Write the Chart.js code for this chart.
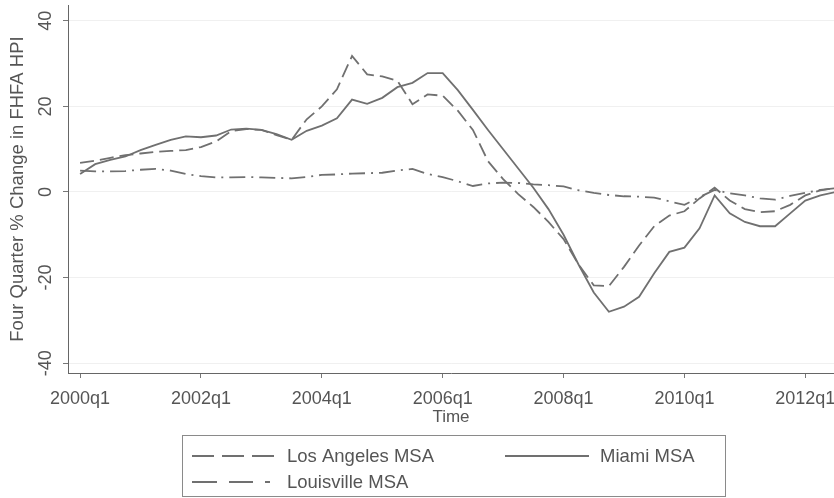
<!DOCTYPE html>
<html>
<head>
<meta charset="utf-8">
<script src="https://cdn.jsdelivr.net/npm/chart.js@4.4.1/dist/chart.umd.min.js"></script>
<style>
  body { margin: 0; background: #fff; }
  #wrap { width: 834px; height: 498px; }
</style>
</head>
<body>
<div id="wrap"><canvas id="hpi" width="834" height="498"></canvas></div>
<script>
// quarters 2000q1 .. 2012q3, x = quarter index
const tickIndex = [0, 8, 16, 24, 32, 40, 48];
const tickLabels = ["2000q1", "2002q1", "2004q1", "2006q1", "2008q1", "2010q1", "2012q1"];
const yTicks = [-40, -20, 0, 20, 40];

const losAngeles = [6.8, 7.3, 8.0, 8.6, 9.0, 9.4, 9.6, 9.8, 10.5, 11.8,
  14.2, 14.7, 14.5, 13.3, 12.2, 17.0, 20.0, 24.0, 31.8, 27.5,
  27.0, 26.0, 20.5, 22.8, 22.5, 19.0, 14.5, 7.2, 3.0, -0.5,
  -3.5, -7.0, -11.0, -17.0, -21.8, -22.0, -17.5, -12.5, -8.0, -5.5,
  -4.5, -1.5, 1.0, -2.0, -4.0, -4.7, -4.5, -3.0, -0.8, 0.4, 0.9];
const miami = [4.2, 6.5, 7.5, 8.3, 9.8, 11.0, 12.2, 13.0, 12.8, 13.2,
  14.6, 14.8, 14.5, 13.5, 12.2, 14.3, 15.5, 17.2, 21.6, 20.6,
  22.0, 24.5, 25.5, 27.8, 27.8, 23.8, 19.2, 14.5, 10.0, 5.5,
  1.0, -4.0, -10.0, -17.0, -23.5, -28.0, -26.8, -24.5, -19.0, -14.0,
  -13.0, -8.5, -0.8, -5.0, -7.0, -8.0, -8.0, -5.0, -2.0, -0.8, 0.0];
const louisville = [5.0, 4.8, 4.8, 4.9, 5.2, 5.4, 5.0, 4.2, 3.7, 3.4,
  3.4, 3.5, 3.4, 3.3, 3.2, 3.5, 4.0, 4.1, 4.3, 4.4,
  4.5, 5.0, 5.4, 4.2, 3.5, 2.5, 1.4, 2.0, 2.2, 2.1,
  1.8, 1.6, 1.3, 0.4, -0.2, -0.7, -1.0, -1.1, -1.3, -2.2,
  -3.0, -1.2, 0.5, -0.3, -0.8, -1.5, -1.8, -0.9, -0.2, 0.5, 0.9];

const lineColor = "#707070";
const textColor = "#555555";
const fontFamily = "'Liberation Sans', Arial, sans-serif";

function toPoints(values) {
  return values.map((v, i) => ({ x: i, y: v }));
}

// Stata style legend box + rotated y tick labels
const stataBits = {
  id: "stataBits",
  afterDraw(chart) {
    const ctx = chart.ctx;
    const yScale = chart.scales.y;
    ctx.save();
    ctx.fillStyle = textColor;
    ctx.font = "18px " + fontFamily;
    ctx.textAlign = "center";
    ctx.textBaseline = "middle";
    yTicks.forEach((t) => {
      const py = yScale.getPixelForValue(t);
      ctx.save();
      ctx.translate(46, py);
      ctx.rotate(-Math.PI / 2);
      ctx.fillText(String(t), 0, 0);
      ctx.restore();
    });

    // legend
    ctx.strokeStyle = "#8a8a8a";
    ctx.lineWidth = 1;
    ctx.setLineDash([]);
    ctx.strokeRect(182.5, 435.5, 543, 61);
    const ds = chart.data.datasets;
    const rows = [
      { d: ds[0], x1: 192, x2: 275, tx: 287, y: 456 },
      { d: ds[1], x1: 505, x2: 589, tx: 600, y: 456 },
      { d: ds[2], x1: 192, x2: 270, tx: 287, y: 482 },
    ];
    ctx.font = "18.5px " + fontFamily;
    ctx.textAlign = "left";
    rows.forEach((r) => {
      ctx.strokeStyle = r.d.borderColor;
      ctx.lineWidth = r.d.borderWidth;
      ctx.setLineDash(r.d.legendDash || []);
      ctx.beginPath();
      ctx.moveTo(r.x1, r.y);
      ctx.lineTo(r.x2, r.y);
      ctx.stroke();
      ctx.fillStyle = textColor;
      ctx.fillText(r.d.label, r.tx, r.y + 1);
    });
    ctx.restore();
  },
};

new Chart(document.getElementById("hpi"), {
  type: "line",
  data: {
    datasets: [
      {
        label: "Los Angeles MSA",
        data: toPoints(losAngeles),
        borderColor: lineColor,
        borderWidth: 1.8,
        borderDash: [14, 6],
        legendDash: [22, 8],
        pointRadius: 0,
        tension: 0,
      },
      {
        label: "Miami MSA",
        data: toPoints(miami),
        borderColor: lineColor,
        borderWidth: 1.8,
        pointRadius: 0,
        tension: 0,
      },
      {
        label: "Louisville MSA",
        data: toPoints(louisville),
        borderColor: lineColor,
        borderWidth: 1.8,
        borderDash: [16, 6, 2, 6],
        legendDash: [25, 12, 24, 12, 5, 20],
        pointRadius: 0,
        tension: 0,
      },
    ],
  },
  options: {
    responsive: false,
    animation: false,
    layout: { padding: { top: 5, right: 0, left: 0, bottom: 66 } },
    plugins: {
      legend: { display: false },
      tooltip: { enabled: false },
    },
    scales: {
      x: {
        type: "linear",
        min: -0.8,
        max: 49.9,
        afterFit: (s) => {
          s.height = 59;
          s.paddingLeft = 0;
          s.paddingRight = 0;
        },
        afterBuildTicks: (s) => { s.ticks = tickIndex.map((v) => ({ value: v })); },
        border: { color: "#666", width: 1 },
        grid: { drawOnChartArea: false, tickLength: 5, tickColor: "#777" },
        ticks: {
          color: textColor,
          font: { family: fontFamily, size: 18 },
          padding: 10,
          maxRotation: 0,
          callback: (v) => tickLabels[tickIndex.indexOf(v)],
        },
        title: {
          display: true,
          text: "Time",
          color: textColor,
          font: { family: fontFamily, size: 17 },
          padding: { top: 0, bottom: 4 },
        },
      },
      y: {
        min: -42.3,
        max: 43.7,
        afterFit: (s) => { s.width = 68; },
        afterBuildTicks: (s) => { s.ticks = yTicks.map((v) => ({ value: v })); },
        border: { color: "#666", width: 1 },
        grid: { color: "rgba(0,0,0,0.06)", tickLength: 5, tickColor: "#777" },
        ticks: { display: false },
        title: {
          display: true,
          text: "Four Quarter % Change in FHFA HPI",
          color: textColor,
          font: { family: fontFamily, size: 18.5 },
          padding: { top: 7, bottom: 4 },
        },
      },
    },
  },
  plugins: [stataBits],
});
</script>
</body>
</html>
